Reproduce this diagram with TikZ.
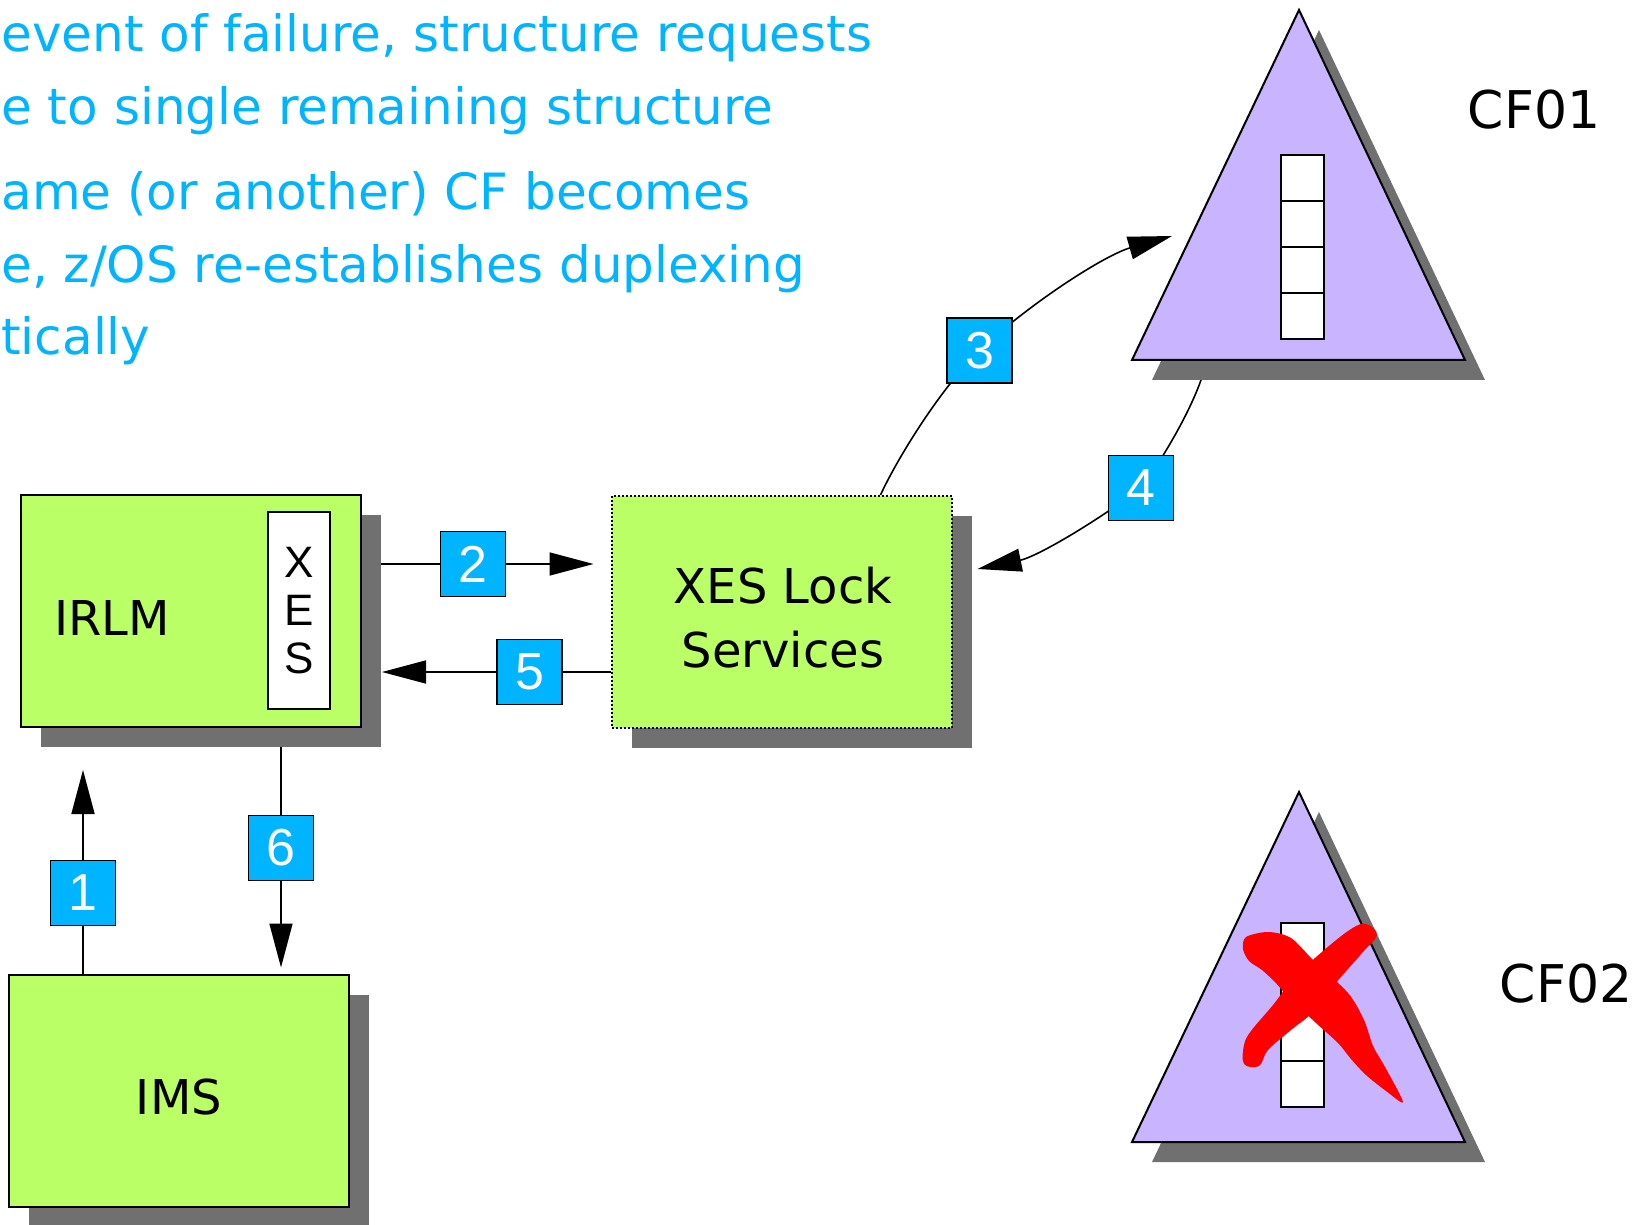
\documentclass[tikz,border=0pt]{standalone}
\usepackage{fontspec}
\setmainfont{DejaVu Sans}
\newfontfamily\numfont{Liberation Sans}
\usetikzlibrary{arrows.meta, positioning, shadows, backgrounds}
\definecolor{mLime}{HTML}{BBFF66}
\definecolor{mLilac}{HTML}{C8B4FF}
\definecolor{mShadow}{HTML}{707070}
\definecolor{mSky}{HTML}{00B4FF}
\definecolor{mRed}{HTML}{FF0000}

\begin{document}
\begin{tikzpicture}[x=0.5pt, y=-0.5pt,
    lbl/.style={inner sep=0pt, font=\fontsize{24}{32}\selectfont},
    note/.style={anchor=base west, inner sep=0pt, text=mSky, font=\fontsize{25}{30}\selectfont},
    sysbox/.style={draw, line width=1pt, fill=mLime, minimum width=170pt, minimum height=116pt,
      drop shadow={shadow xshift=10pt, shadow yshift=-10pt, fill=mShadow, opacity=1}},
    numbox/.style={draw, line width=0.9pt, fill=mSky, text=white, minimum size=32.5pt, inner sep=0pt,
      font=\numfont\fontsize{26}{26}\selectfont},
    flow/.style={line width=0.8pt, -{Triangle[length=22pt, width=11.5pt]}}]
  \useasboundingbox (0,0) rectangle (1650,1225);

  % text at the top left
  \foreach \y/\t [count=\i] in {52/{event of failure, structure requests},
      125/{e to single remaining structure}, 210/{ame (or another) CF becomes},
      283/{e, z/OS re-establishes duplexing}, 355/{tically}}
    \node[note] (note\i) at (1,\y) {\t};

  % systems
  \node[sysbox] (irlm) at (191,611) {};
  \node[lbl, anchor=west] (irlmtxt) at (54,618) {IRLM};
  \node[draw, line width=1pt, fill=white, minimum width=31pt, minimum height=98.5pt, inner sep=0pt,
    align=center, font=\numfont\fontsize{22}{24}\selectfont] (xesstrip) at (299,610.5) {X\\E\\S};
  \node[sysbox, densely dotted] (xes) at (781.5,612) {};
  \node[lbl, align=center] (xestxt) at (783,618) {XES Lock\\Services};
  \node[sysbox] (ims) at (179,1090.5) {};
  \node[lbl] (imstxt) at (179,1097) {IMS};

  % coupling facilities
  \foreach \dy/\cy/\lx/\ly/\nm [count=\k] in {0/155/1534/110/CF01, 782/923/1566/984/CF02} {
    \fill[mShadow, shift={(20,20)}] (1299,{10+\dy}) -- (1465,{360+\dy}) -- (1132,{360+\dy}) -- cycle;
    \draw[line width=1pt, fill=mLilac] (1299,{10+\dy}) -- (1465,{360+\dy}) -- (1132,{360+\dy}) -- cycle;
    \foreach \j in {0,...,3}
      \draw[line width=0.8pt, fill=white] (1281,{\cy+46*\j}) rectangle ++(43,46);
    \node[lbl, font=\fontsize{26}{26}\selectfont] (cf\k) at (\lx,\ly) {\nm};
  }

  % broken structure
  \fill[mRed] plot[smooth cycle, tension=0.6] coordinates {(1366,924) (1377,935) (1362,953)
    (1334,985) (1313,1012) (1291,1030) (1268,1050) (1259,1066) (1244,1064) (1244,1045)
    (1251,1031) (1273,1005) (1294,978) (1323,951) (1351,929)};
  \fill[mRed] plot[smooth cycle, tension=0.5] coordinates {(1246,937) (1268,932) (1291,938)
    (1314,961) (1348,993) (1364,1020) (1373,1046) (1385,1067) (1403,1102) (1386,1091)
    (1366,1075) (1351,1059) (1338,1043) (1316,1023) (1295,1003) (1282,990) (1275,982)
    (1262,970) (1249,961) (1243,949)};

  % steps
  \foreach \n/\x/\y in {1/83/893, 2/473/564, 3/979.5/350.5, 4/1141/488, 5/529.5/672, 6/281/848}
    \node[numbox] (n\n) at (\x,\y) {\n};

  \coordinate (t3) at (1172,236);
  \coordinate (cf1foot) at (1201,380);
  \begin{scope}[on background layer]
    \draw[flow, shorten >=21pt] (ims.north -| n1) -- (irlm.south -| n1);
    \draw[flow, shorten >=8.5pt] (irlm.east |- n2) -- (xes.west |- n2);
    \draw[flow] ([xshift=135pt]xes.north west) .. controls (897,459) and (940,389) .. (n3.center)
      .. controls (1030,303) and (1105,255) .. (t3);
    \draw[flow] (cf1foot) .. controls (1189,414) and (1162,460) .. (n4.center)
      .. controls (1093,524) and (1036,557) .. ([xshift=12.5pt, yshift=21.5pt]xes.east);
    \draw[flow, shorten >=10pt] (xes.west |- n5) -- (irlm.east |- n5);
    \draw[flow, shorten >=3pt] (irlm.south -| n6) -- (ims.north -| n6);
  \end{scope}
\end{tikzpicture}
\end{document}
